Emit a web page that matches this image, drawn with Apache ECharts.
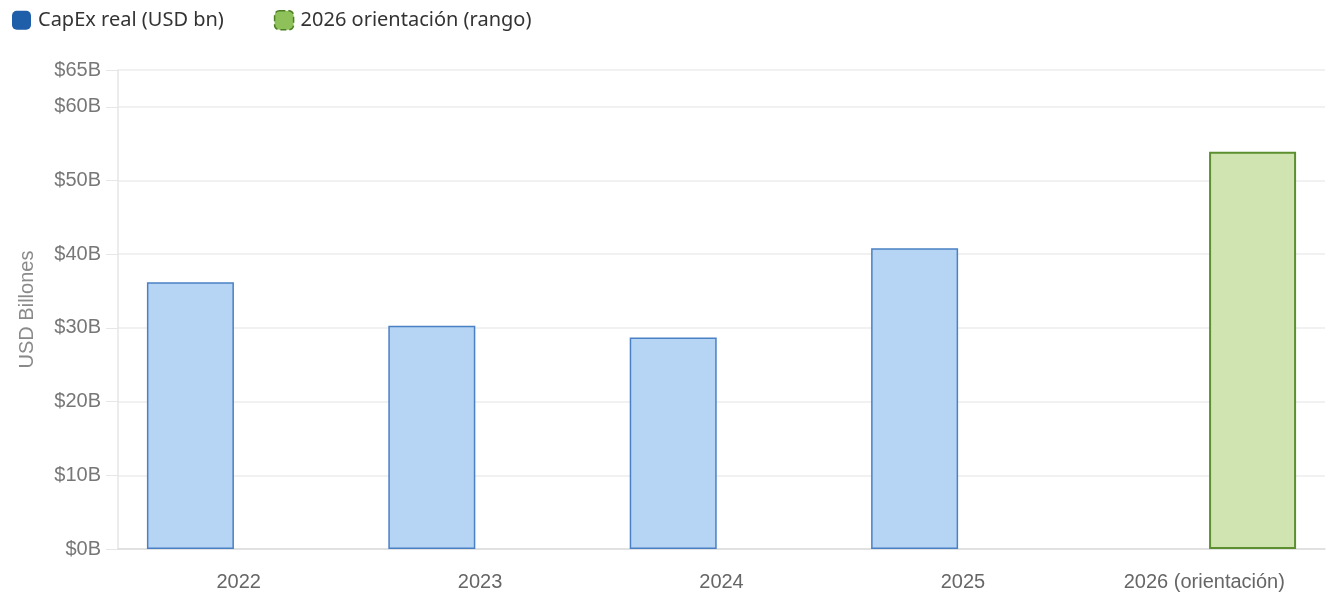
<!DOCTYPE html>
<html>
<head>
<meta charset="utf-8">
<script src="https://cdn.jsdelivr.net/npm/echarts@6/dist/echarts.min.js"></script>
<style>
	html, body { margin:0; padding:0; background:#fff; }
	#chart { width:1340px; height:610px; }
</style>
</head>
<body>
<div id="chart"></div>
<script>
var categories = ['2022', '2023', '2024', '2025', '2026 (orientación)'];
var capexReal = [36.2, 30.3, 28.7, 40.8, '-'];
var guidance = ['-', '-', '-', '-', 53.9];
var yTicks = [0, 10, 20, 30, 40, 50, 60, 65];

var chart = echarts.init(document.getElementById('chart'));

var axisFont = 'Liberation Sans, Arial, sans-serif';

chart.setOption({
	animation:false,
	legend:{
		left:7,
		top:5,
		itemWidth:19,
		itemHeight:19,
		itemGap:50,
		icon:'roundRect',
		textStyle:{
			fontFamily:'Noto Sans, Open Sans, sans-serif',
			fontSize:20,
			color:'#333',
			padding:[0, 0, 0, 2]
		},
		data:[
			{name:'CapEx real (USD bn)', itemStyle:{color:'#1f5ea8', borderWidth:0}},
			{name:'2026 orientación (rango)', itemStyle:{color:'#8fc15a', borderColor:'#4c7f24', borderWidth:1.5, borderType:'dashed'}}
		]
	},
	grid:{
		left:118,
		right:15,
		top:70,
		bottom:61
	},
	xAxis:{
		type:'category',
		data:categories,
		axisLine:{lineStyle:{color:'#dcdcdc', width:1.5}},
		axisTick:{show:false},
		axisLabel:{
			margin:23,
			fontFamily:axisFont,
			fontSize:20,
			color:'#666'
		}
	},
	yAxis:{
		type:'value',
		min:yTicks[0],
		max:yTicks[yTicks.length - 1],
		interval:10,
		name:'USD Billones',
		nameLocation:'middle',
		nameGap:81,
		nameTextStyle:{
			fontFamily:axisFont,
			fontSize:20,
			color:'#8a8a8a'
		},
		axisLine:{show:true, lineStyle:{color:'#e6e6e6', width:1.5}},
		axisTick:{show:true, length:12, lineStyle:{color:'#e6e6e6'}},
		splitLine:{lineStyle:{color:'#ededed', width:1.5}},
		axisLabel:{
			margin:17,
			fontFamily:axisFont,
			fontSize:20,
			color:'#777',
			formatter:function(v){ return '$' + v + 'B'; }
		}
	},
	series:[{
		name:'CapEx real (USD bn)',
		type:'bar',
		data:capexReal,
		barWidth:87,
		barGap:'11%',
		itemStyle:{
			color:'#b6d4f3',
			borderColor:'#4a80c4',
			borderWidth:1.5
		}
	},{
		name:'2026 orientación (rango)',
		type:'bar',
		data:guidance,
		barWidth:87,
		barGap:'11%',
		itemStyle:{
			color:'#d0e4b2',
			borderColor:'#5b8f30',
			borderWidth:2
		}
	}]
});
</script>
</body>
</html>
